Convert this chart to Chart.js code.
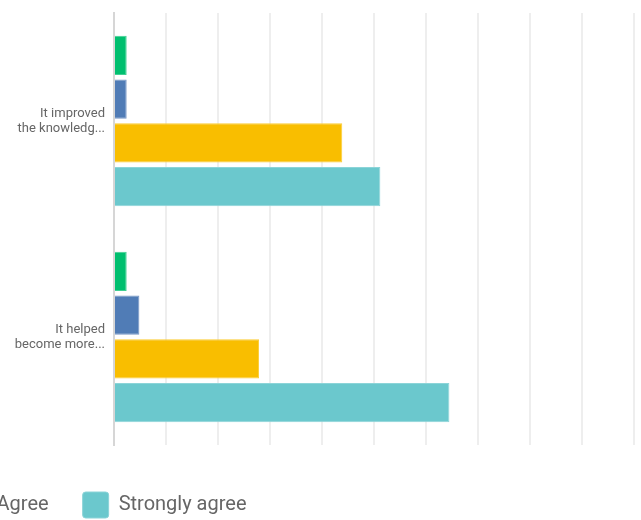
<!DOCTYPE html>
<html>
<head>
<meta charset="utf-8">
<script src="https://cdn.jsdelivr.net/npm/chart.js@4/dist/chart.umd.min.js"></script>
<style>
  html, body { margin: 0; padding: 0; background: #fff; overflow: hidden; }
  body { width: 641px; height: 520px; position: relative; }
  #survey-chart { position: absolute; top: 0; }
</style>
</head>
<body>
<canvas id="survey-chart"></canvas>
<script>
// preguntas y respuestas (porcentaje de encuestados)
const questions = [['It improved', 'the knowledg...'], ['It helped', 'become more...']];
const answers = ['Strongly disagree', 'Disagree', 'Agree', 'Strongly agree'];
const stronglyDisagree = [2.44, 2.44];
const disagree = [2.44, 4.88];
const agree = [43.9, 27.9];
const stronglyAgree = [51.22, 64.5];
const xTicks = [0, 100, 10]; // min, max, step

const fills = ['#00bf6f', '#507cb6', '#f9be00', '#6bc8cd'];
const edges = ['#3fcf92', '#7797c6', '#fbcc33', '#8cd4d8'];

// the legend is wider than the page: shift the canvas left so only the
// last two entries show, the "Strongly agree" box landing at x=83
const legendFont = 20, legendPad = 34, boxSize = 26, lastBoxX = 83;
const measure = document.createElement('canvas').getContext('2d');
measure.font = legendFont + 'px Roboto';
let hidden = legendPad;
for (let i = 0; i < 3; i++) {
  hidden += boxSize + legendFont / 2 + measure.measureText(answers[i]).width + legendPad;
}
const shift = Math.round(hidden - lastBoxX);

const canvas = document.getElementById('survey-chart');
canvas.width = 641 + shift;
canvas.height = 530;
canvas.style.left = (-shift) + 'px';

Chart.defaults.font.family = 'Roboto';

const series = [stronglyDisagree, disagree, agree, stronglyAgree];

new Chart(canvas, {
  type: 'bar',
  data: {
    labels: questions,
    datasets: series.map((values, i) => ({
      label: answers[i],
      data: values,
      backgroundColor: fills[i],
      borderColor: edges[i],
      borderWidth: 1,
      barPercentage: 0.9,
      categoryPercentage: 0.81
    }))
  },
  options: {
    indexAxis: 'y',
    responsive: false,
    animation: false,
    layout: { padding: { top: 13, right: 7, bottom: 2, left: 0 } },
    scales: {
      x: {
        min: xTicks[0],
        max: xTicks[1],
        ticks: { display: false, stepSize: xTicks[2] },
        grid: { color: '#eeeeee', lineWidth: 2, drawTicks: false },
        border: { display: false },
        afterFit: (s) => { s.height = 13; }
      },
      y: {
        grid: { display: false, drawTicks: false },
        border: { color: '#d6d6d6', width: 2 },
        ticks: { color: '#666', font: { size: 13, lineHeight: 1.15 }, padding: 9 },
        afterFit: (s) => {
          s.width = 114 + shift;
          // no extra room for the two-line labels above/below the plot
          s.paddingTop = 0;
          s.paddingBottom = 0;
        }
      }
    },
    plugins: {
      legend: {
        position: 'bottom',
        align: 'start',
        labels: {
          boxWidth: boxSize,
          boxHeight: boxSize,
          padding: legendPad,
          color: '#666',
          font: { size: legendFont },
          useBorderRadius: true,
          borderRadius: 3
        }
      },
      tooltip: { enabled: false }
    }
  }
});
</script>
</body>
</html>
